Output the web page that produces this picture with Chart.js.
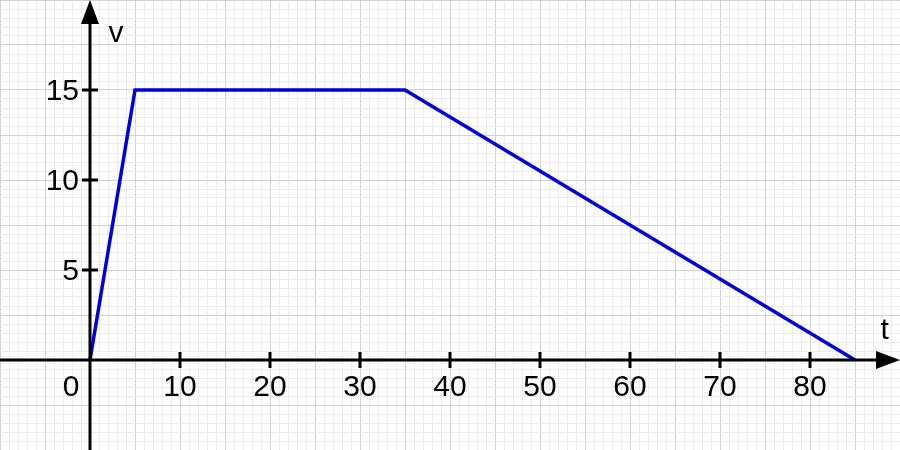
<!DOCTYPE html>
<html>
<head>
<meta charset="utf-8">
<script src="https://cdn.jsdelivr.net/npm/chart.js@4/dist/chart.umd.min.js"></script>
<style>
html,body{margin:0;padding:0;background:#fff;}
#wrap{width:900px;height:450px;position:relative;}
</style>
</head>
<body>
<div id="wrap"><canvas id="c"></canvas></div>
<script>
const tValues = [0, 5, 35, 85];
const vValues = [0, 15, 15, 0];
const xTickLabels = [10, 20, 30, 40, 50, 60, 70, 80];
const yTickLabels = [5, 10, 15];
const xLabel = 't';
const yLabel = 'v';

const FONT = '"Liberation Sans", Arial, sans-serif';

const axesPlugin = {
  id: 'axesPlugin',
  afterDatasetsDraw(chart) {
    const ctx = chart.ctx;
    const xs = chart.scales.x, ys = chart.scales.y;
    const ox = xs.getPixelForValue(0), oy = ys.getPixelForValue(0);
    const left = chart.chartArea.left, right = chart.chartArea.right;
    const top = chart.chartArea.top, bottom = chart.chartArea.bottom;
    ctx.save();
    ctx.strokeStyle = '#000';
    ctx.fillStyle = '#000';
    ctx.lineWidth = 3;
    ctx.beginPath(); ctx.moveTo(left, oy); ctx.lineTo(right - 20, oy); ctx.stroke();
    ctx.beginPath(); ctx.moveTo(ox, bottom); ctx.lineTo(ox, top + 20); ctx.stroke();
    ctx.beginPath(); ctx.moveTo(right, oy); ctx.lineTo(right - 24, oy - 9); ctx.lineTo(right - 24, oy + 9); ctx.closePath(); ctx.fill();
    ctx.beginPath(); ctx.moveTo(ox, top); ctx.lineTo(ox - 9, top + 24); ctx.lineTo(ox + 9, top + 24); ctx.closePath(); ctx.fill();
    ctx.font = '30px ' + FONT;
    ctx.textAlign = 'center'; ctx.textBaseline = 'middle';
    xTickLabels.forEach(v => {
      const px = xs.getPixelForValue(v);
      ctx.beginPath(); ctx.moveTo(px, oy - 8); ctx.lineTo(px, oy + 8); ctx.stroke();
      ctx.fillText(String(v), px, oy + 28);
    });
    ctx.textAlign = 'right';
    yTickLabels.forEach(v => {
      const py = ys.getPixelForValue(v);
      ctx.beginPath(); ctx.moveTo(ox - 8, py); ctx.lineTo(ox + 8, py); ctx.stroke();
      ctx.fillText(String(v), ox - 11, py + 2);
    });
    ctx.textAlign = 'center';
    ctx.fillText('0', ox - 19, oy + 28);
    ctx.fillText(yLabel, ox + 26, ys.getPixelForValue(18.1));
    ctx.fillText(xLabel, xs.getPixelForValue(88.3), ys.getPixelForValue(1.6));
    ctx.restore();
  }
};

new Chart(document.getElementById('c'), {
  type: 'scatter',
  data: {
    datasets: [{
      data: tValues.map((t, i) => ({x: t, y: vValues[i]})),
      showLine: true,
      borderColor: '#0000dd',
      borderWidth: 3.5,
      pointRadius: 0,
      tension: 0,
      fill: false
    }]
  },
  options: {
    responsive: true,
    maintainAspectRatio: false,
    animation: false,
    layout: {padding: 0},
    plugins: {legend: {display: false}, tooltip: {enabled: false}},
    scales: {
      x: {
        type: 'linear', min: -10, max: 90,
        border: {display: false},
        ticks: {display: false, stepSize: 1, autoSkip: false, maxTicksLimit: 200},
        grid: {
          drawTicks: false, lineWidth: 1,
          color: c => (Math.round(c.tick.value) % 5 === 0) ? '#d2d2d2' : '#ebebeb'
        }
      },
      y: {
        type: 'linear', min: -5, max: 20,
        border: {display: false},
        ticks: {display: false, stepSize: 0.5, autoSkip: false, maxTicksLimit: 200},
        grid: {
          drawTicks: false, lineWidth: 1,
          color: c => (Math.abs(Math.round(c.tick.value * 2)) % 5 === 0) ? '#d2d2d2' : '#ebebeb'
        }
      }
    }
  },
  plugins: [axesPlugin]
});
</script>
</body>
</html>
